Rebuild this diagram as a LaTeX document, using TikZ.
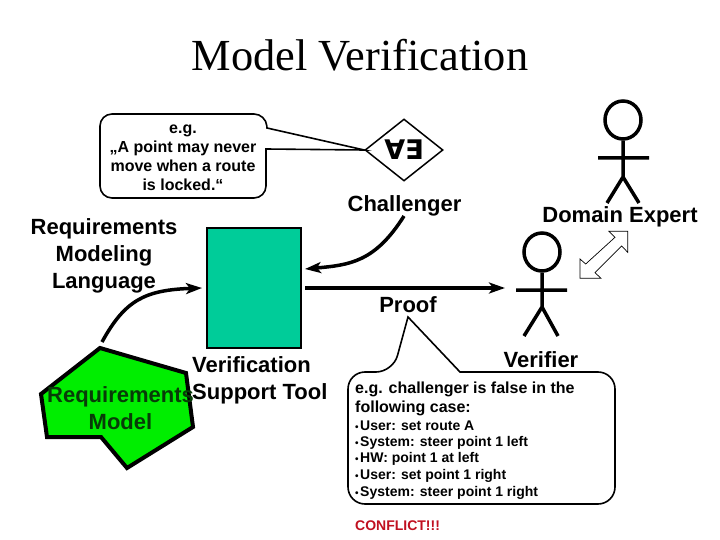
\documentclass[tikz,border=0pt]{standalone}
\usepackage{fontspec}
\setmainfont{Liberation Sans}
\newfontfamily\titlefont{Liberation Serif}
\newfontfamily\symfont{DejaVu Sans}
\usetikzlibrary{shapes.geometric,arrows.meta}
\definecolor{boxteal}{RGB}{0,204,153}
\definecolor{reqgreen}{RGB}{0,238,0}
\definecolor{reqtextc}{RGB}{8,60,8}
\definecolor{conflictred}{RGB}{192,16,32}
\newcommand{\tinybul}{\makebox[5pt][l]{\fontsize{10}{10}\selectfont •}}
\tikzset{
  lbl/.style={font=\fontsize{22}{27}\selectfont\bfseries,align=center,inner sep=0pt},
  calltext/.style={font=\fontsize{16}{18.9}\selectfont\bfseries,align=center,inner sep=0pt},
  smalltext/.style={font=\fontsize{14}{17}\selectfont\bfseries,anchor=west,inner sep=0pt},
  midtext/.style={font=\fontsize{16}{20}\selectfont\bfseries,anchor=west,inner sep=0pt},
  callout/.style={draw=black,line width=1.6pt,fill=white,line join=miter},
  flow/.style={draw=black,line width=3.5pt,-{Stealth[length=16pt,width=11pt,inset=4pt]}},
  stick/.style={draw=black,line width=3.5pt},
  headcirc/.style={draw=black,line width=3.5pt,ellipse,minimum width=36pt,minimum height=38pt,inner sep=0pt,fill=white},
}
\begin{document}
\begin{tikzpicture}[x=1pt,y=-1pt]
\useasboundingbox (0,0) rectangle (720,540);
\node[font=\titlefont\fontsize{44.4}{50}\selectfont,inner sep=0pt] (title) at (360,55) {Model Verification};

% quantifier diamond
\node[diamond,draw=black,line width=1.5pt,minimum width=78pt,minimum height=62pt,inner sep=0pt,aspect=1.26] (quant) at (404,150) {};
\node[font=\symfont\fontsize{27}{30}\selectfont\bfseries,inner sep=0pt] (qtext) at (404,150) {∀∃};

% callout 1
\draw[callout,rounded corners=12pt] (266,149) -- (266,198) -- (100,198) -- (100,114) -- (266,114) [sharp corners] -- (267,128) -- (quant.west) -- cycle;
\node[calltext] (c1) at (183,158) {e.g.\\„A point may never\\move when a route\\is locked.“};

\node[lbl] (chal) at (404.5,206) {Challenger};
\node[lbl] (rml) at (104,256) {Requirements\\Modeling\\Language};

% tool box
\node[draw=black,line width=1.5pt,fill=boxteal,minimum width=94pt,minimum height=120pt,inner sep=0pt] (tool) at (254,288) {};
\node[lbl,align=left,anchor=west] (tooltxt) at (192,380) {Verification\\Support Tool};

% requirements model
\filldraw[draw=black,fill=reqgreen,line width=4pt,line join=miter] (100,348) -- (186,373) -- (193,427) -- (127,468) -- (101,437) -- (47,437) -- (41,394) -- cycle;
\coordinate (reqtop) at (102,342);
\node[lbl,text=reqtextc] (reqtxt) at (120.5,408) {Requirements\\Model};

% actors
\node[headcirc] (dehead) at (623,120) {};
\coordinate (dehip) at (623,177);
\coordinate (dearmL) at (598,158);
\coordinate (dearmR) at (649,158);
\coordinate (delegL) at (607,203);
\coordinate (delegR) at (639,203);
\draw[stick] (dehead.south) -- (dehip) (dearmL) -- (dearmR) (delegL) -- (dehip) -- (delegR);
\node[lbl] (detxt) at (620,217) {Domain Expert};

\node[headcirc] (vhead) at (542,252) {};
\coordinate (vhip) at (542,307);
\coordinate (varmL) at (516,290);
\coordinate (varmR) at (567,290);
\coordinate (vlegL) at (524,336);
\coordinate (vlegR) at (558,336);
\draw[stick] (vhead.south) -- (vhip) (varmL) -- (varmR) (vlegL) -- (vhip) -- (vlegR);
\node[lbl] (vtxt) at (541,360) {Verifier};

% connectors
\coordinate (chalfoot) at (404,216);
\coordinate (toolin) at (305,269);
\coordinate (toolreq) at (202,288);
\coordinate (proofout) at (305,288);
\coordinate (prooftip) at (505,288);
\draw[flow] (chalfoot) .. controls (375,262) and (350,265) .. (toolin);
\draw[flow] (reqtop) .. controls (125,300) and (145,290) .. (toolreq);
\draw[flow] (proofout) -- (prooftip);

% double arrow
\draw[black,line width=0.7pt,fill=white] (627.7,231.3) -- (609,231.3) -- (615,237.3) -- (585.7,264) -- (580,259) -- (580,278.3) -- (601,278.3) -- (595,272.7) -- (621.7,246) -- (627.7,252.3) -- cycle;

\node[lbl] (prooftxt) at (408,305) {Proof};

% callout 2
\coordinate (pfa) at (408,317);
\draw[callout,rounded corners=17pt] (460,372) -- (615,372) -- (615,504) -- (348,504) -- (348,372) -- (393,372) [sharp corners] -- (pfa) -- cycle;
\node[midtext] (t1) at (355,389) {e.g. challenger is false in the};
\node[midtext] (t2) at (355,408) {following case:};
\node[smalltext] (t3) at (355,426) {\tinybul User: set route A};
\node[smalltext] (t4) at (355,443) {\tinybul System: steer point 1 left};
\node[smalltext] (t5) at (355,459) {\tinybul HW: point 1 at left};
\node[smalltext] (t6) at (355,476) {\tinybul User: set point 1 right};
\node[smalltext] (t7) at (355,493) {\tinybul System: steer point 1 right};
\node[smalltext,text=conflictred] (t8) at (355,526) {CONFLICT!!!};
\end{tikzpicture}
\end{document}
